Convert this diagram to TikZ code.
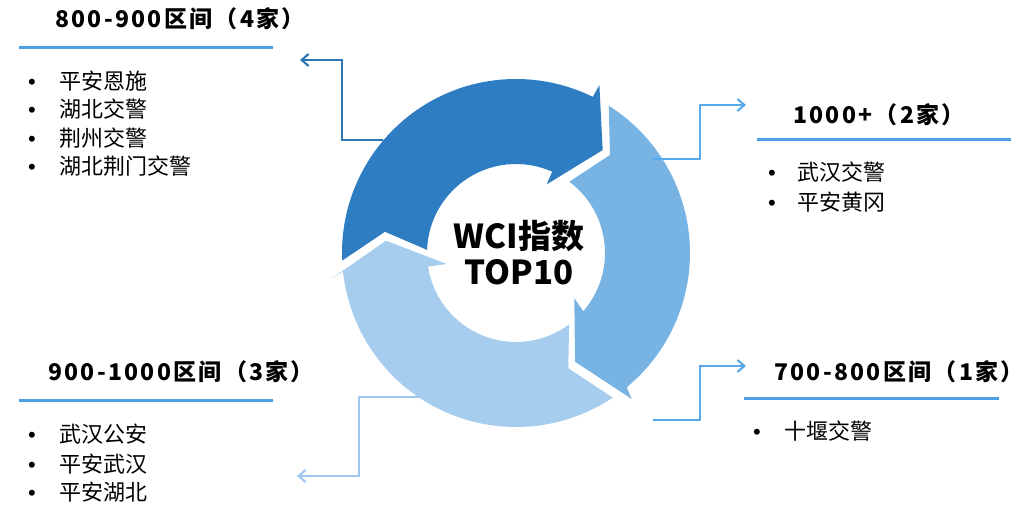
\documentclass[tikz,border=0pt]{standalone}
\usepackage{fontspec}
\setmainfont{Noto Sans CJK SC}
\newfontfamily\cjk{Noto Sans CJK SC}
\newfontfamily\bulfont{Liberation Sans}
\usetikzlibrary{arrows.meta}
\definecolor{segdark}{RGB}{46,125,194}
\definecolor{segmid}{RGB}{120,180,227}
\definecolor{seglight}{RGB}{167,205,238}
\definecolor{uline}{RGB}{78,160,230}
\definecolor{cdark}{RGB}{46,117,182}
\definecolor{cmid}{RGB}{88,168,236}
\definecolor{clight}{RGB}{157,199,239}
\newcommand\spacedtxt[1]{{\addfontfeature{LetterSpace=10}#1}}
\begin{document}
\begin{tikzpicture}[x=1pt,y=1pt,
  conn/.style={line width=2.1pt,-{Straight Barb[length=7pt,width=12pt,line width=2.1pt]}},
  uln/.style={draw=uline,line width=3pt},
  head/.style={inner sep=0pt,anchor=base west,font=\cjk\bfseries\fontsize{23}{27}\selectfont},
  item/.style={inner sep=0pt,anchor=base west,font=\cjk\fontsize{22}{26}\selectfont},
  bul/.style={inner sep=0pt,anchor=base,font=\bulfont\fontsize{22}{26}\selectfont},
  ctext/.style={inner sep=0pt,anchor=base,font=\cjk\bfseries\fontsize{33}{36}\selectfont}]
\useasboundingbox (0,0) rectangle (1026,512);
\fill[white] (0,0) rectangle (1026,512);

% ring segments
\begin{scope}[shift={(516,259)}]
\fill[segdark] (182.5:174) arc[start angle=182.5,end angle=63.8,radius=174]
  -- (63.6:187.5) -- (49.9:134.6) -- (65.9:75.2) -- (66:89)
  arc[start angle=66,end angle=178,radius=89] -- (170.8:132.7) -- cycle;
\fill[segmid] (57.8:174) arc[start angle=57.8,end angle=-50.5,radius=174]
  -- (-51.6:186.3) -- (-61.5:123.7) -- (-37.8:73.8) -- (-40.9:89)
  arc[start angle=-40.9,end angle=53.2,radius=89] -- (46.2:135.8) -- cycle;
\fill[seglight] (-56.2:174) arc[start angle=-56.2,end angle=-173.9,radius=174]
  -- (-172:186.8) -- (-185.4:130.6) -- (-171:70.2) -- (-171.2:89)
  arc[start angle=-171.2,end angle=-53.4,radius=89] -- (-65.6:126.6) -- cycle;
\end{scope}

% centre text
\node[ctext] (c1) at (519,263) {WCI指数};
\node[ctext] (c2) at (519,227) {TOP10};

% connector coordinates
\coordinate (tlS) at (383,372);
\coordinate (tlE) at (300,452);
\coordinate (trS) at (653,353);
\coordinate (trE) at (746,407);
\coordinate (brS) at (653,92);
\coordinate (brE) at (746,146);
\coordinate (blS) at (420,115);
\coordinate (blE) at (297,36);

\draw[conn,draw=cdark] (tlS) -- (342,372) -- (342,452) -- (tlE);
\draw[conn,draw=cmid] (trS) -- (700,353) -- (700,407) -- (trE);
\draw[conn,draw=cmid] (brS) -- (700,92) -- (700,146) -- (brE);
\draw[conn,draw=clight] (blS) -- (359,115) -- (359,36) -- (blE);

% top-left block
\node[head] (h1) at (55,484.5) {\spacedtxt{800-900区间（4家）}};
\coordinate (u1a) at (19,464); \coordinate (u1b) at (273,464);
\draw[uln] (u1a) -- (u1b);
\node[bul] (b11) at (32,422.3) {•}; \node[item] (t11) at (59,422.3) {平安恩施};
\node[bul] (b12) at (32,394) {•};   \node[item] (t12) at (59,394) {湖北交警};
\node[bul] (b13) at (32,365.7) {•}; \node[item] (t13) at (59,365.7) {荆州交警};
\node[bul] (b14) at (32,337.3) {•}; \node[item] (t14) at (59,337.3) {湖北荆门交警};

% top-right block
\node[head] (h2) at (793,388.5) {\spacedtxt{1000+（2家）}};
\coordinate (u2a) at (757,372); \coordinate (u2b) at (1011,372);
\draw[uln] (u2a) -- (u2b);
\node[bul] (b21) at (772,331) {•}; \node[item] (t21) at (797,331) {武汉交警};
\node[bul] (b22) at (772,301) {•}; \node[item] (t22) at (797,301) {平安黄冈};

% bottom-right block
\node[head] (h3) at (774,131.5) {\spacedtxt{700-800区间（1家）}\hspace*{-14pt}};
\coordinate (u3a) at (744,114); \coordinate (u3b) at (999,114);
\draw[uln] (u3a) -- (u3b);
\node[bul] (b31) at (757,73) {•}; \node[item] (t31) at (784,73) {十堰交警};

% bottom-left block
\node[head] (h4) at (48,131.5) {\spacedtxt{900-1000区间（3家）}};
\coordinate (u4a) at (19,112); \coordinate (u4b) at (273,112);
\draw[uln] (u4a) -- (u4b);
\node[bul] (b41) at (32,70) {•}; \node[item] (t41) at (59,70) {武汉公安};
\node[bul] (b42) at (32,40) {•}; \node[item] (t42) at (59,40) {平安武汉};
\node[bul] (b43) at (32,12) {•}; \node[item] (t43) at (59,12) {平安湖北};
\end{tikzpicture}
\end{document}
